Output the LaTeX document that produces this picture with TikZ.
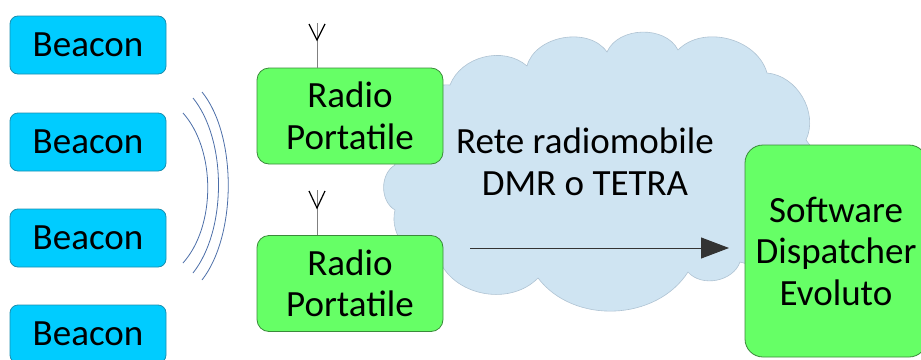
\documentclass[tikz,border=0pt]{standalone}
\usepackage{fontspec}
\setmainfont{Carlito}
\usetikzlibrary{arrows.meta}
\definecolor{beaconfill}{HTML}{00CCFF}
\definecolor{beacondraw}{HTML}{1A8FB0}
\definecolor{greenfill}{HTML}{66FF66}
\definecolor{greendraw}{HTML}{3A8A3A}
\definecolor{cloudfill}{HTML}{CFE4F2}
\definecolor{clouddraw}{HTML}{AFC3D3}
\definecolor{wave}{HTML}{4C6EA8}
\definecolor{arrowc}{HTML}{333333}
\begin{document}
\begin{tikzpicture}[x=1pt,y=1pt,
  txt/.style={font=\fontsize{37}{41.5}\selectfont, align=center, inner sep=0pt},
  beaconbox/.style={draw=beacondraw, fill=beaconfill, rounded corners=8pt, line width=0.8pt,
     minimum width=156pt, minimum height=58pt, txt},
  radiobox/.style={draw=greendraw, fill=greenfill, rounded corners=12pt, line width=0.8pt,
     minimum width=186pt, minimum height=96pt, txt},
  softbox/.style={draw=greendraw, fill=greenfill, rounded corners=18pt, line width=0.8pt,
     minimum width=182pt, minimum height=212pt, txt},
  wavearc/.style={draw=wave, line width=0.8pt},
  stem/.style={draw=gray, line width=0.8pt},
  vee/.style={draw=black, line width=1.2pt},
  arr/.style={draw=arrowc, line width=1pt, -{Triangle[length=28pt,width=21pt]}}
]
\useasboundingbox (0,0) rectangle (921,-359);
\clip (0,0) rectangle (921,-359);

% cloud
\coordinate (c1) at (395,-165);
\coordinate (c2) at (450,-85);
\coordinate (c3) at (527,-66);
\coordinate (c4) at (607,-52);
\coordinate (c5) at (678,-50);
\coordinate (c6) at (767,-73);
\coordinate (c7) at (806,-140);
\coordinate (c8) at (805,-215);
\coordinate (c9) at (740,-262);
\coordinate (c10) at (688,-272);
\coordinate (c11) at (538,-278);
\coordinate (c12) at (440,-262);
\coordinate (c13) at (395,-210);
\path[fill=cloudfill, draw=clouddraw, line width=0.6pt]
  (c1) to[bend left=60] (c2) to[bend left=55] (c3) to[bend left=65] (c4)
  to[bend left=65] (c5) to[bend left=60] (c6) to[bend left=55] (c7)
  to[bend left=40] (c8) to[bend left=55] (c9) to[bend left=60] (c10)
  to[bend left=55] (c11) to[bend left=55] (c12) to[bend left=55] (c13)
  to[bend left=60] (c1) -- cycle;

\node[txt] (rete) at (585,-162) {Rete radiomobile\\DMR o TETRA};

% beacons
\node[beaconbox] (b1) at (88,-45) {Beacon};
\node[beaconbox] (b2) at (88,-142) {Beacon};
\node[beaconbox] (b3) at (88,-238) {Beacon};
\node[beaconbox] (b4) at (88,-334) {Beacon};

% waves
\path[wavearc] (183,-113) .. controls (216,-150) and (216,-226) .. (183,-263);
\path[wavearc] (193,-98) .. controls (227,-140) and (227,-230) .. (193,-273);
\path[wavearc] (202,-92) .. controls (237,-135) and (237,-235) .. (202,-280);

% radios
\node[radiobox] (r1) at (350,-116) {Radio\\Portatile};
\node[radiobox] (r2) at (350,-283.5) {Radio\\Portatile};

% antennas
\coordinate (a1top) at (317,-23);
\coordinate (a1v) at (317,-40);
\path[stem] (a1top |- r1.north) -- (a1top);
\path[vee] (309,-24) -- (a1v) -- (325,-24);
\coordinate (a2top) at (317,-190);
\coordinate (a2v) at (317,-208);
\path[stem] (a2top |- r2.north) -- (a2top);
\path[vee] (309,-191) -- (a2v) -- (325,-191);

% software
\node[softbox] (sw) at (836,-251) {Software\\Dispatcher\\Evoluto};

% arrow
\coordinate (s) at (470,-248);
\coordinate (e) at (729,-248);
\path[arr] (s) -- (e);
\end{tikzpicture}
\end{document}
